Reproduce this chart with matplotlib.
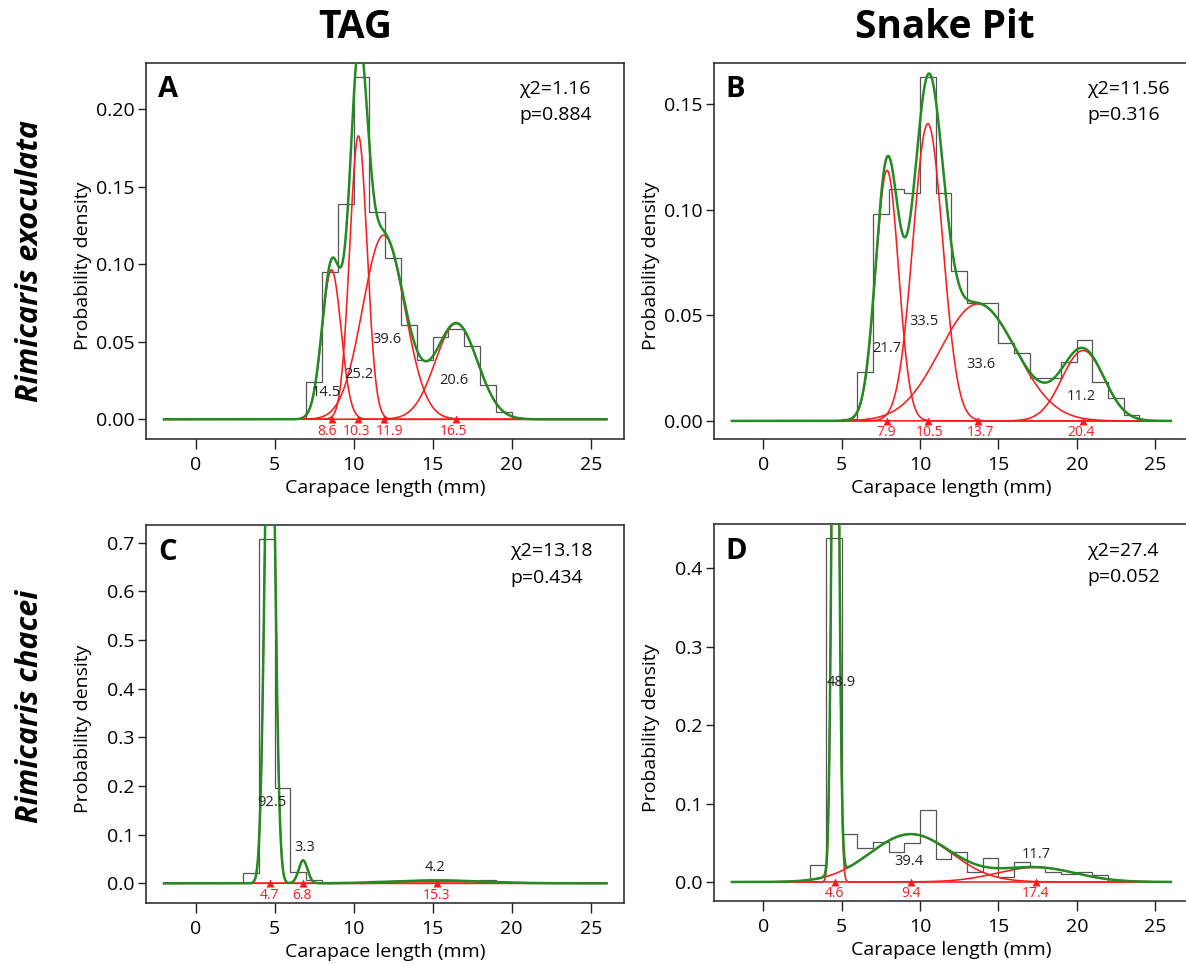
import numpy as np
import matplotlib.pyplot as plt

plt.rcParams['font.family'] = ['Open Sans', 'DejaVu Sans']
narrow = ['Liberation Sans Narrow', 'Open Sans', 'DejaVu Sans']

sites = ['TAG', 'Snake Pit']
species = ['Rimicaris exoculata', 'Rimicaris chacei']
letters = ['A', 'B', 'C', 'D']

# A: R. exoculata, TAG
a_edges = [7, 8, 9, 10, 11, 12, 13, 14, 15, 16, 17, 18, 19, 20]
a_dens = [0.024, 0.095, 0.139, 0.221, 0.134, 0.104, 0.061, 0.038, 0.053, 0.058, 0.047, 0.022, 0.0045]
a_means = [8.6, 10.3, 11.9, 16.5]
a_sds = [0.60, 0.55, 1.33, 1.33]
a_props = [14.5, 25.2, 39.6, 20.6]
a_stats = ['χ2=1.16', 'p=0.884']

# B: R. exoculata, Snake Pit
b_edges = [5, 6, 7, 8, 9, 10, 11, 12, 13, 14, 15, 16, 17, 18, 19, 20, 21, 22, 23, 24]
b_dens = [0.0008, 0.023, 0.098, 0.110, 0.108, 0.163, 0.108, 0.071, 0.056, 0.056, 0.037,
          0.032, 0.0205, 0.0205, 0.028, 0.0385, 0.0185, 0.011, 0.003]
b_means = [7.9, 10.5, 13.7, 20.4]
b_sds = [0.73, 0.95, 2.42, 1.34]
b_props = [21.7, 33.5, 33.6, 11.2]
b_stats = ['χ2=11.56', 'p=0.316']

# C: R. chacei, TAG
c_edges = [3, 4, 5, 6, 7, 8, 9, 10, 11, 12, 13, 14, 15, 16, 17, 18, 19, 20, 21]
c_dens = [0.022, 0.7075, 0.195, 0.024, 0.007, 0.0, 0.0, 0.0, 0.004, 0.004, 0.005, 0.005,
          0.005, 0.005, 0.005, 0.006, 0.003, 0.002]
c_means = [4.7, 6.8, 15.3]
c_sds = [0.30, 0.28, 2.8]
c_props = [92.5, 3.3, 4.2]
c_stats = ['χ2=13.18', 'p=0.434']

# D: R. chacei, Snake Pit
d_edges = [3, 4, 5, 6, 7, 8, 9, 10, 11, 12, 13, 14, 15, 16, 17, 18, 19, 20, 21, 22]
d_dens = [0.0216, 0.438, 0.0606, 0.0437, 0.0509, 0.0386, 0.0492, 0.0912, 0.0288, 0.0386,
          0.0127, 0.031, 0.0064, 0.0254, 0.0191, 0.0127, 0.0098, 0.0127, 0.0089]
d_means = [4.6, 9.4, 17.4]
d_sds = [0.20, 2.58, 2.52]
d_props = [48.9, 39.4, 11.7]
d_stats = ['χ2=27.4', 'p=0.052']

panels = [
    (a_edges, a_dens, a_means, a_sds, a_props, a_stats),
    (b_edges, b_dens, b_means, b_sds, b_props, b_stats),
    (c_edges, c_dens, c_means, c_sds, c_props, c_stats),
    (d_edges, d_dens, d_means, d_sds, d_props, d_stats),
]

# layout / styling per panel
rects = [(0.1234, 0.5443, 0.4029, 0.3907), (0.6023, 0.5443, 0.3997, 0.3907),
         (0.1234, 0.0630, 0.4029, 0.3924), (0.6023, 0.0654, 0.3997, 0.3908)]
ylims = [(-0.0129, 0.230), (-0.0087, 0.1696), (-0.041, 0.736), (-0.0242, 0.456)]
yticks = [np.arange(0, 0.21, 0.05), np.arange(0, 0.16, 0.05), np.arange(0, 0.71, 0.1), np.arange(0, 0.41, 0.1)]
yfmt = ['{:.2f}', '{:.2f}', '{:.1f}', '{:.1f}']
stat_x = [0.78, 0.786, 0.761, 0.786]
# where the proportion labels sit (x shift from mean, y in data units)
lab_dx = [[-0.35, 0.0, 0.2, -0.15], [0.0, -0.25, 0.2, -0.1], [0.15, 0.1, -0.15], [0.4, -0.1, 0.0]]
lab_y = [[0.0174, 0.0286, 0.0516, 0.0249], [0.0344, 0.047, 0.0268, 0.0115],
         [0.166, 0.074, 0.032], [0.2545, 0.0259, 0.0352]]
# small x nudges of the red mean labels
mean_dx = [[-0.27, -0.1, 0.35, -0.2], [-0.03, 0.14, 0.13, -0.12], [-0.04, -0.09, -0.05], [-0.07, 0.0, 0.0]]

green = '#228b22'
red = '#ff1a1a'

fig = plt.figure(figsize=(11.86, 9.64), dpi=100)
x = np.linspace(-2, 26, 2801)

for i, (edges, dens, means, sds, props, stats) in enumerate(panels):
    ax = fig.add_axes(rects[i])
    comps = []
    for m, s, p in zip(means, sds, props):
        comps.append(p / 100 * np.exp(-0.5 * ((x - m) / s) ** 2) / (s * np.sqrt(2 * np.pi)))
    ax.stairs(dens, edges, color='#555555', lw=0.9, zorder=2)
    for c in comps:
        ax.plot(x, c, color=red, lw=1.15, zorder=3)
    ax.plot(x, np.sum(comps, axis=0), color=green, lw=1.8, zorder=4)
    ax.plot(means, np.zeros(len(means)), '^', color=red, ms=6, mec='none', zorder=5)
    for j, m in enumerate(means):
        ax.annotate(f'{m:.1f}', (m + mean_dx[i][j], 0), xytext=(0, -8.5), textcoords='offset points',
                    ha='center', va='center', color=red, fontsize=10)
        ax.text(m + lab_dx[i][j], lab_y[i][j], f'{props[j]:.1f}', ha='center', va='center',
                color='#222222', fontsize=10.5, zorder=6)

    ax.set_xlim(-3.12, 27.12)
    ax.set_ylim(*ylims[i])
    ax.set_xticks([0, 5, 10, 15, 20, 25])
    ax.set_yticks(yticks[i])
    ax.set_yticklabels([yfmt[i].format(v) for v in yticks[i]])
    ax.tick_params(axis='x', length=7, width=1.0, pad=5, labelsize=14, color='#222222')
    ax.tick_params(axis='y', length=5.5, width=1.0, pad=3, labelsize=14, color='#222222')
    for sp in ax.spines.values():
        sp.set_linewidth(1.1)
        sp.set_color('#222222')
    ax.set_xlabel('Carapace length (mm)', fontsize=14)
    ax.set_ylabel('Probability density', fontsize=14)
    ax.xaxis.set_label_coords(0.5, -0.105)
    ax.yaxis.set_label_coords(-0.114, 0.46)

    ax.text(0.024, 0.928, letters[i], transform=ax.transAxes, ha='left', va='center',
            fontsize=21, fontweight='bold', family=narrow)
    ax.text(stat_x[i], 0.93, stats[0], transform=ax.transAxes, ha='left', va='center', fontsize=14)
    ax.text(stat_x[i], 0.86, stats[1], transform=ax.transAxes, ha='left', va='center', fontsize=14)

fig.text(0.2998, 0.971, sites[0], ha='center', va='center', fontsize=28, fontweight='bold', family=narrow)
fig.text(0.797, 0.971, sites[1], ha='center', va='center', fontsize=28, fontweight='bold', family=narrow)
fig.text(0.025, 0.729, species[0], ha='center', va='center', rotation=90, fontsize=22,
         fontweight='bold', style='italic', family=narrow)
fig.text(0.025, 0.2676, species[1], ha='center', va='center', rotation=90, fontsize=22,
         fontweight='bold', style='italic', family=narrow)

fig.savefig('out.png', dpi=100)
